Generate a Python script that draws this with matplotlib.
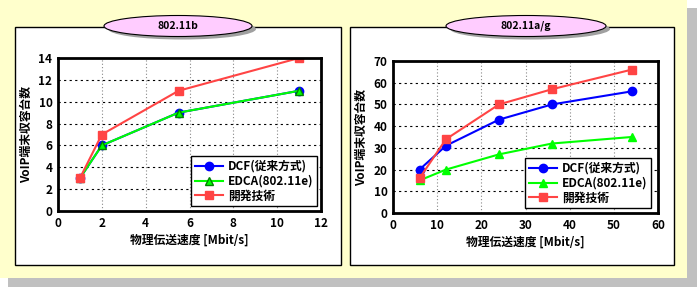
import matplotlib
matplotlib.use('Agg')
import matplotlib.pyplot as plt
from matplotlib.patches import Rectangle, Ellipse

plt.rcParams['font.family'] = ['Noto Sans CJK JP', 'DejaVu Sans']
plt.rcParams['font.weight'] = 'bold'

# data
b_rate = [1, 2, 5.5, 11]
b_dcf = [3, 6, 9, 11]
b_edca = [3, 6, 9, 11]
b_dev = [3, 7, 11, 14]

ag_rate = [6, 12, 24, 36, 54]
ag_dcf = [20, 31, 43, 50, 56]
ag_edca = [15, 20, 27, 32, 35]
ag_dev = [16, 34, 50, 57, 66]

titles = ['802.11b', '802.11a/g']
labels = ['DCF(従来方式)', 'EDCA(802.11e)', '開発技術']
xlabel = '物理伝送速度 [Mbit/s]'
ylabel = 'VoIP端末収容台数'

W, H = 697, 287
fig = plt.figure(figsize=(W / 100, H / 100), dpi=100, facecolor='white')

# background in pixel coordinates
bg = fig.add_axes([0, 0, 1, 1])
bg.set_xlim(0, W)
bg.set_ylim(H, 0)
bg.axis('off')
bg.add_patch(Rectangle((8, 8), W - 8, H - 8, color='#c0c0c0', lw=0))
bg.add_patch(Rectangle((0, 0), 687, 278, color='#ffffcc', lw=0))
for x0, x1 in [(15, 341), (350, 674)]:
    bg.add_patch(Rectangle((x0, 27), x1 - x0, 238, facecolor='white', edgecolor='black', lw=1))
for cx, w, t in [(178, 148, titles[0]), (526, 160, titles[1])]:
    bg.add_patch(Ellipse((cx + 4, 29), w, 21, color='#a0a0a0', lw=0))
    bg.add_patch(Ellipse((cx, 26), w, 21, facecolor='#ffccff', edgecolor='black', lw=0.8))
    bg.text(cx, 26, t, ha='center', va='center', fontsize=7.5, fontweight='bold')


def pix_axes(x0, x1, y0, y1):
    return fig.add_axes([x0 / W, 1 - y1 / H, (x1 - x0) / W, (y1 - y0) / H])


def draw(ax, x, dcf, edca, dev, xmax, xstep, ymax, ystep, lpos):
    ax.plot(x, dcf, color='#0000ff', marker='o', ms=6, lw=1.5, label=labels[0])
    ax.plot(x, edca, color='#00ff00', marker='^', ms=6, lw=1.5, label=labels[1],
            mec='#008000' if edca == dcf else '#00ff00')
    ax.plot(x, dev, color='#ff4444', marker='s', ms=6, lw=1.5, label=labels[2])
    ax.set_xlim(0, xmax)
    ax.set_ylim(0, ymax)
    ax.set_xticks(range(0, xmax + 1, xstep))
    ax.set_yticks(range(0, ymax + 1, ystep))
    ax.grid(axis='y', color='black', ls=(0, (2, 3)), lw=0.8)
    ax.grid(axis='x', color='#888888', ls=(0, (1, 2)), lw=0.8)
    ax.set_axisbelow(True)
    for s in ax.spines.values():
        s.set_linewidth(2)
    ax.tick_params(length=0, labelsize=8.5, pad=4)
    for lab in ax.get_xticklabels() + ax.get_yticklabels():
        lab.set_fontweight('bold')
    ax.set_xlabel(xlabel, fontsize=8.5, fontweight='bold', labelpad=3)
    ax.set_ylabel(ylabel, fontsize=8.5, fontweight='bold', labelpad=4)
    leg = ax.legend(loc='lower right', bbox_to_anchor=lpos, fancybox=False,
                    edgecolor='black', framealpha=1, fontsize=8.5,
                    handlelength=2.4, borderpad=0.3, labelspacing=0.15,
                    handletextpad=0.4, borderaxespad=0)
    leg.get_frame().set_linewidth(1)


ax1 = pix_axes(58, 321, 58, 211)
draw(ax1, b_rate, b_dcf, b_edca, b_dev, 12, 2, 14, 2, (0.985, 0.033))
ax2 = pix_axes(393, 658, 61, 213)
draw(ax2, ag_rate, ag_dcf, ag_edca, ag_dev, 60, 10, 70, 10, (0.974, 0.033))

fig.savefig('out.png', dpi=100, facecolor=fig.get_facecolor())
